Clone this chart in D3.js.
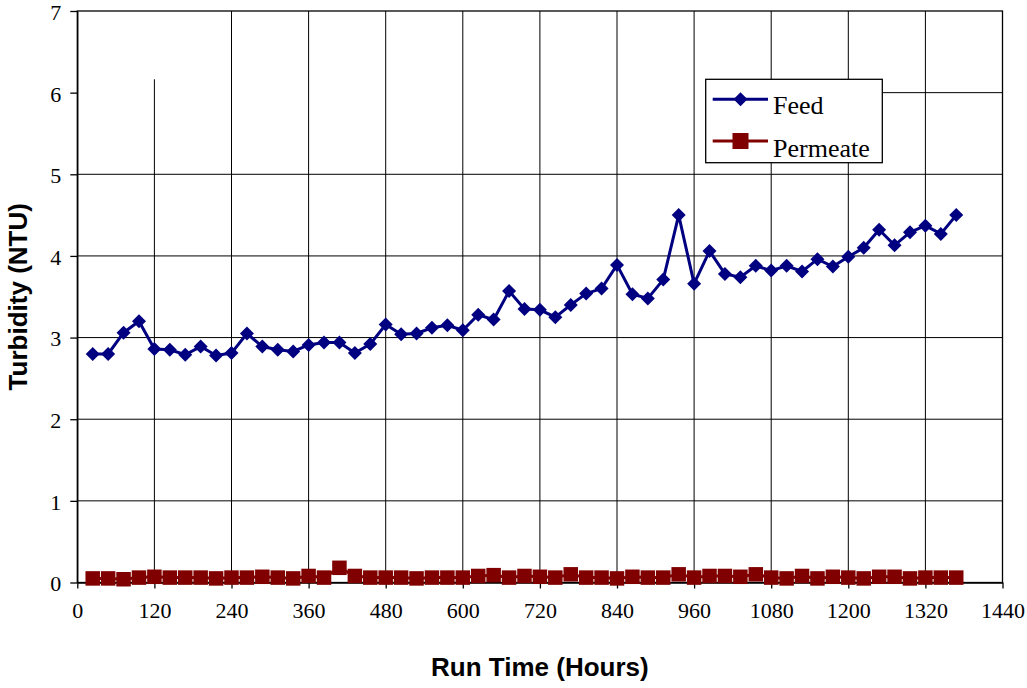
<!DOCTYPE html>
<html lang="en">
	<head>
		<title>Turbidity Chart</title>
		<script src="https://d3js.org/d3.v7.min.js"></script>
		<style>
			body { margin: 0; background: #fff; }
		</style>
	</head>
	<body>
		<div id="chart"></div>
		<script>

			// run time in hours, one reading every 24 h
			var hours = [24, 48, 72, 96, 120, 144, 168, 192, 216, 240, 264, 288, 312, 336, 360, 384, 408, 432, 456,
						 480, 504, 528, 552, 576, 600, 624, 648, 672, 696, 720, 744, 768, 792, 816, 840, 864, 888,
						 912, 936, 960, 984, 1008, 1032, 1056, 1080, 1104, 1128, 1152, 1176, 1200, 1224, 1248, 1272,
						 1296, 1320, 1344, 1368];

			var feed = [2.80, 2.80, 3.06, 3.20, 2.86, 2.85, 2.79, 2.89, 2.78, 2.81, 3.05, 2.89, 2.85, 2.83, 2.91,
						2.94, 2.94, 2.81, 2.92, 3.16, 3.04, 3.05, 3.12, 3.15, 3.09, 3.28, 3.22, 3.57, 3.35, 3.34,
						3.25, 3.40, 3.54, 3.60, 3.89, 3.53, 3.48, 3.71, 4.50, 3.66, 4.06, 3.78, 3.74, 3.88, 3.82,
						3.88, 3.81, 3.96, 3.87, 3.99, 4.10, 4.32, 4.13, 4.29, 4.37, 4.27, 4.50];

			var permeate = [0.05, 0.05, 0.04, 0.06, 0.07, 0.06, 0.06, 0.06, 0.05, 0.06, 0.06, 0.07, 0.06, 0.05, 0.08,
							0.06, 0.18, 0.08, 0.06, 0.06, 0.06, 0.05, 0.06, 0.06, 0.06, 0.08, 0.09, 0.06, 0.08, 0.07,
							0.06, 0.10, 0.06, 0.06, 0.05, 0.07, 0.06, 0.06, 0.10, 0.06, 0.08, 0.08, 0.07, 0.10, 0.06,
							0.05, 0.08, 0.05, 0.07, 0.06, 0.05, 0.07, 0.07, 0.05, 0.06, 0.06, 0.06];

			var xTicks = [0, 120, 240, 360, 480, 600, 720, 840, 960, 1080, 1200, 1320, 1440];
			var yTicks = [0, 1, 2, 3, 4, 5, 6, 7];

			var width = 1027;
			var height = 688;
			var pLeft = 77.3, pRight = 1002.5, pTop = 11, pBottom = 582.5;

			// legend box
			var lg = {x: 705.7, y: 79.3, w: 176.6, h: 83.4};

			var svg = d3.select('#chart').append('svg')
					  .attr('width', width)
					  .attr('height', height);

			var x = d3.scaleLinear().domain([0, 1440]).range([pLeft, pRight]);
			var y = d3.scaleLinear().domain([0, 7]).range([pBottom, pTop]);

			// grid lines (the 6 line and the 120 line are cut off by the legend area)
			svg.append("g").selectAll("line")
				.data(yTicks.filter(function(d) { return d > 0 && d < 7; }))
				.enter().append("line")
				.attr("x1", function(d) { return d == 6 ? lg.x + lg.w : pLeft; })
				.attr("x2", pRight)
				.attr("y1", function(d) { return y(d); })
				.attr("y2", function(d) { return y(d); })
				.attr("stroke", "#000").attr("stroke-width", 1);

			svg.append("g").selectAll("line")
				.data(xTicks.filter(function(d) { return d > 0 && d < 1440; }))
				.enter().append("line")
				.attr("x1", function(d) { return x(d); })
				.attr("x2", function(d) { return x(d); })
				.attr("y1", function(d) { return d == 120 ? lg.y : pTop; })
				.attr("y2", pBottom)
				.attr("stroke", "#000").attr("stroke-width", 1);

			// plot frame
			svg.append("rect")
				.attr("x", pLeft).attr("y", pTop)
				.attr("width", pRight - pLeft).attr("height", pBottom - pTop)
				.attr("fill", "none").attr("stroke", "#000").attr("stroke-width", 1.3);

			// axes
			var xAxis = d3.axisBottom(x).tickValues(xTicks).tickFormat(d3.format("d"))
				.tickSizeInner(6).tickSizeOuter(0).tickPadding(14);
			var yAxis = d3.axisLeft(y).tickValues(yTicks).tickFormat(d3.format("d"))
				.tickSizeInner(7).tickSizeOuter(0).tickPadding(9);

			var gx = svg.append("g").attr("transform", "translate(0," + pBottom + ")").call(xAxis);
			var gy = svg.append("g").attr("transform", "translate(" + pLeft + ",0)").call(yAxis);

			[gx, gy].forEach(function(g) {
				g.select(".domain").attr("stroke", "#000").attr("stroke-width", 1.3);
				g.selectAll(".tick line").attr("stroke", "#000").attr("stroke-width", 1.3);
				g.selectAll("text")
					.attr("fill", "#000")
					.attr("font-family", "'Liberation Serif', 'Times New Roman', serif")
					.attr("font-size", 22);
			});
			gy.selectAll("text").attr("dy", "0.38em");

			// axis titles
			svg.append("text")
				.attr("x", (pLeft + pRight) / 2).attr("y", 676)
				.attr("text-anchor", "middle")
				.attr("font-family", "'Liberation Sans', Arial, sans-serif")
				.attr("font-weight", "bold")
				.attr("font-size", 26)
				.text("Run Time (Hours)");

			svg.append("text")
				.attr("transform", "translate(27," + (pTop + pBottom) / 2 + ") rotate(-90)")
				.attr("text-anchor", "middle")
				.attr("font-family", "'Liberation Sans', Arial, sans-serif")
				.attr("font-weight", "bold")
				.attr("font-size", 26)
				.text("Turbidity (NTU)");

			var feedData = hours.map(function(h, i) { return {h: h, v: feed[i]}; });
			var permData = hours.map(function(h, i) { return {h: h, v: permeate[i]}; });

			var line = d3.line()
				.x(function(d) { return x(d.h); })
				.y(function(d) { return y(d.v); });

			var diamond = "M0,-7L7,0L0,7L-7,0Z";
			var sq = 14.5;

			// Permeate series
			svg.append("path").datum(permData)
				.attr("d", line)
				.attr("fill", "none").attr("stroke", "#800000").attr("stroke-width", 3);

			svg.append("g").selectAll("rect")
				.data(permData)
				.enter().append("rect")
				.attr("x", function(d) { return x(d.h) - sq / 2; })
				.attr("y", function(d) { return y(d.v) - sq / 2; })
				.attr("width", sq).attr("height", sq)
				.attr("fill", "#800000");

			// Feed series
			svg.append("path").datum(feedData)
				.attr("d", line)
				.attr("fill", "none").attr("stroke", "#000080").attr("stroke-width", 3);

			svg.append("g").selectAll("path")
				.data(feedData)
				.enter().append("path")
				.attr("d", diamond)
				.attr("transform", function(d) { return "translate(" + x(d.h) + "," + y(d.v) + ")"; })
				.attr("fill", "#000080");

			// legend
			var legend = svg.append("g");
			legend.append("rect")
				.attr("x", lg.x).attr("y", lg.y).attr("width", lg.w).attr("height", lg.h)
				.attr("fill", "#fff").attr("stroke", "#000").attr("stroke-width", 1.3);

			var items = [{name: "Feed", color: "#000080", ly: 99.3, ty: 114},
						 {name: "Permeate", color: "#800000", ly: 141, ty: 156.5}];

			items.forEach(function(it, i) {
				legend.append("line")
					.attr("x1", 712.7).attr("x2", 768)
					.attr("y1", it.ly).attr("y2", it.ly)
					.attr("stroke", it.color).attr("stroke-width", 3);
				if (i == 0) {
					legend.append("path")
						.attr("d", diamond)
						.attr("transform", "translate(740.5," + it.ly + ")")
						.attr("fill", it.color);
				} else {
					legend.append("rect")
						.attr("x", 740.5 - 8).attr("y", it.ly - 8)
						.attr("width", 16).attr("height", 16)
						.attr("fill", it.color);
				}
				legend.append("text")
					.attr("x", 773).attr("y", it.ty)
					.attr("font-family", "'Liberation Serif', 'Times New Roman', serif")
					.attr("font-size", 26)
					.text(it.name);
			});

		</script>
	</body>
</html>
